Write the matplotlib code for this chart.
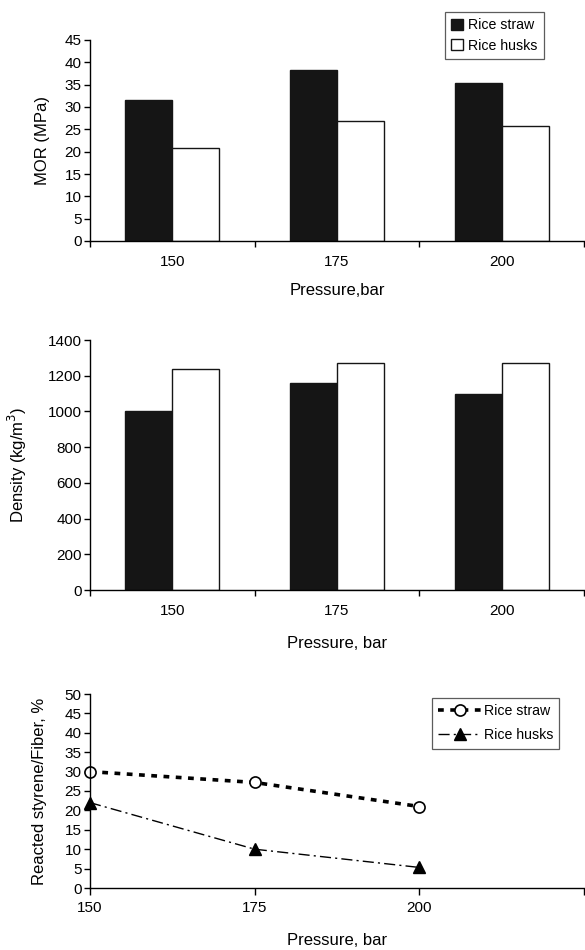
import numpy as np
import matplotlib.pyplot as plt
from matplotlib.ticker import FixedLocator, NullFormatter

plt.rcParams['font.family'] = ['Liberation Sans', 'DejaVu Sans']

pressure = ['150', '175', '200']
mor_straw = [31.6, 38.3, 35.3]
mor_husks = [20.9, 26.9, 25.8]
dens_straw = [1000, 1160, 1100]
dens_husks = [1240, 1270, 1270]
p_num = [150, 175, 200]
styr_straw = [30.0, 27.2, 21.0]
styr_husks = [22.0, 10.0, 5.3]

W, H = 585, 950
fig = plt.figure(figsize=(W / 100, H / 100), dpi=100)

def box(x0, y0, x1, y1):
    # pixel box -> figure fraction
    return [x0 / W, 1 - y1 / H, (x1 - x0) / W, (y1 - y0) / H]

def style(ax):
    for s in ['top', 'right']:
        ax.spines[s].set_visible(False)
    for s in ['left', 'bottom']:
        ax.spines[s].set_linewidth(1.0)
    ax.tick_params(direction='out', length=4, width=1, labelsize=11, pad=2)

def bars(ax, a, b):
    x = np.arange(len(pressure))
    bw = 0.285
    ax.bar(x - bw / 2, a, bw, color='#151515', edgecolor='#151515', lw=1, label='Rice straw')
    ax.bar(x + bw / 2, b, bw, color='white', edgecolor='#151515', lw=1, label='Rice husks')
    ax.set_xlim(-0.5, 2.5)
    ax.xaxis.set_major_locator(FixedLocator([-0.5, 0.5, 1.5, 2.5]))
    ax.xaxis.set_major_formatter(NullFormatter())
    ax.xaxis.set_minor_locator(FixedLocator(x))
    ax.set_xticklabels(pressure, minor=True)

# panel 1: MOR
ax1 = fig.add_axes(box(90, 40, 584, 241))
bars(ax1, mor_straw, mor_husks)
ax1.set_ylim(0, 45)
ax1.set_yticks(np.arange(0, 46, 5))
ax1.set_ylabel('MOR (MPa)', fontsize=12)
ax1.set_xlabel('Pressure,bar', fontsize=12)
style(ax1)
ax1.tick_params(axis='x', which='minor', length=0, pad=10, labelsize=11)
ax1.yaxis.set_label_coords(-0.081, 0.5)
ax1.xaxis.set_label_coords(0.5, -0.21)
leg1 = ax1.legend(loc='upper left', bbox_to_anchor=((445 - 90) / 494, 1 + 28 / 201),
                  fontsize=10.2, frameon=True, fancybox=False, edgecolor='#333333',
                  handlelength=0.8, handleheight=0.8, handletextpad=0.4,
                  borderpad=0.45, labelspacing=0.45, borderaxespad=0)
leg1.get_frame().set_linewidth(0.9)

# panel 2: density
ax2 = fig.add_axes(box(90, 340, 584, 590))
bars(ax2, dens_straw, dens_husks)
ax2.set_ylim(0, 1400)
ax2.set_yticks(np.arange(0, 1401, 200))
ax2.set_ylabel('Density (kg/m$^3$)', fontsize=12)
ax2.set_xlabel('Pressure, bar', fontsize=12)
style(ax2)
ax2.tick_params(axis='x', which='minor', length=0, pad=10, labelsize=11)
ax2.yaxis.set_label_coords(-0.124, 0.5)
ax2.xaxis.set_label_coords(0.5, -0.185)

# panel 3: reacted styrene
ax3 = fig.add_axes(box(90, 694, 584, 888))
ax3.plot(p_num, styr_straw, color='black', lw=2.6, ls=(0, (1.6, 1.8)),
         marker='o', ms=8, mfc='white', mec='black', mew=1.2, label='Rice straw',
         clip_on=False)
ax3.plot(p_num, styr_husks, color='black', lw=1.0, ls=(0, (8, 3, 1.5, 3)),
         marker='^', ms=8, mfc='black', mec='black', label='Rice husks',
         clip_on=False)
ax3.set_xlim(150, 225)
ax3.set_xticks([150, 175, 200, 225])
ax3.set_xticklabels(['150', '175', '200', ''])
ax3.set_ylim(0, 50)
ax3.set_yticks(np.arange(0, 51, 5))
ax3.set_ylabel('Reacted styrene/Fiber, %', fontsize=12)
ax3.set_xlabel('Pressure, bar', fontsize=12)
style(ax3)
ax3.tick_params(axis='x', length=5, pad=4, labelsize=11)
ax3.yaxis.set_label_coords(-0.087, 0.5)
ax3.xaxis.set_label_coords(0.5, -0.23)
leg3 = ax3.legend(loc='upper left', bbox_to_anchor=((432 - 90) / 494, 1 - 4 / 194),
                  fontsize=10.2, frameon=True, fancybox=False, edgecolor='#333333',
                  handlelength=3.0, handletextpad=0.2, borderpad=0.45,
                  labelspacing=0.7, borderaxespad=0)
leg3.get_frame().set_linewidth(0.9)

fig.savefig('out.png', dpi=100)
